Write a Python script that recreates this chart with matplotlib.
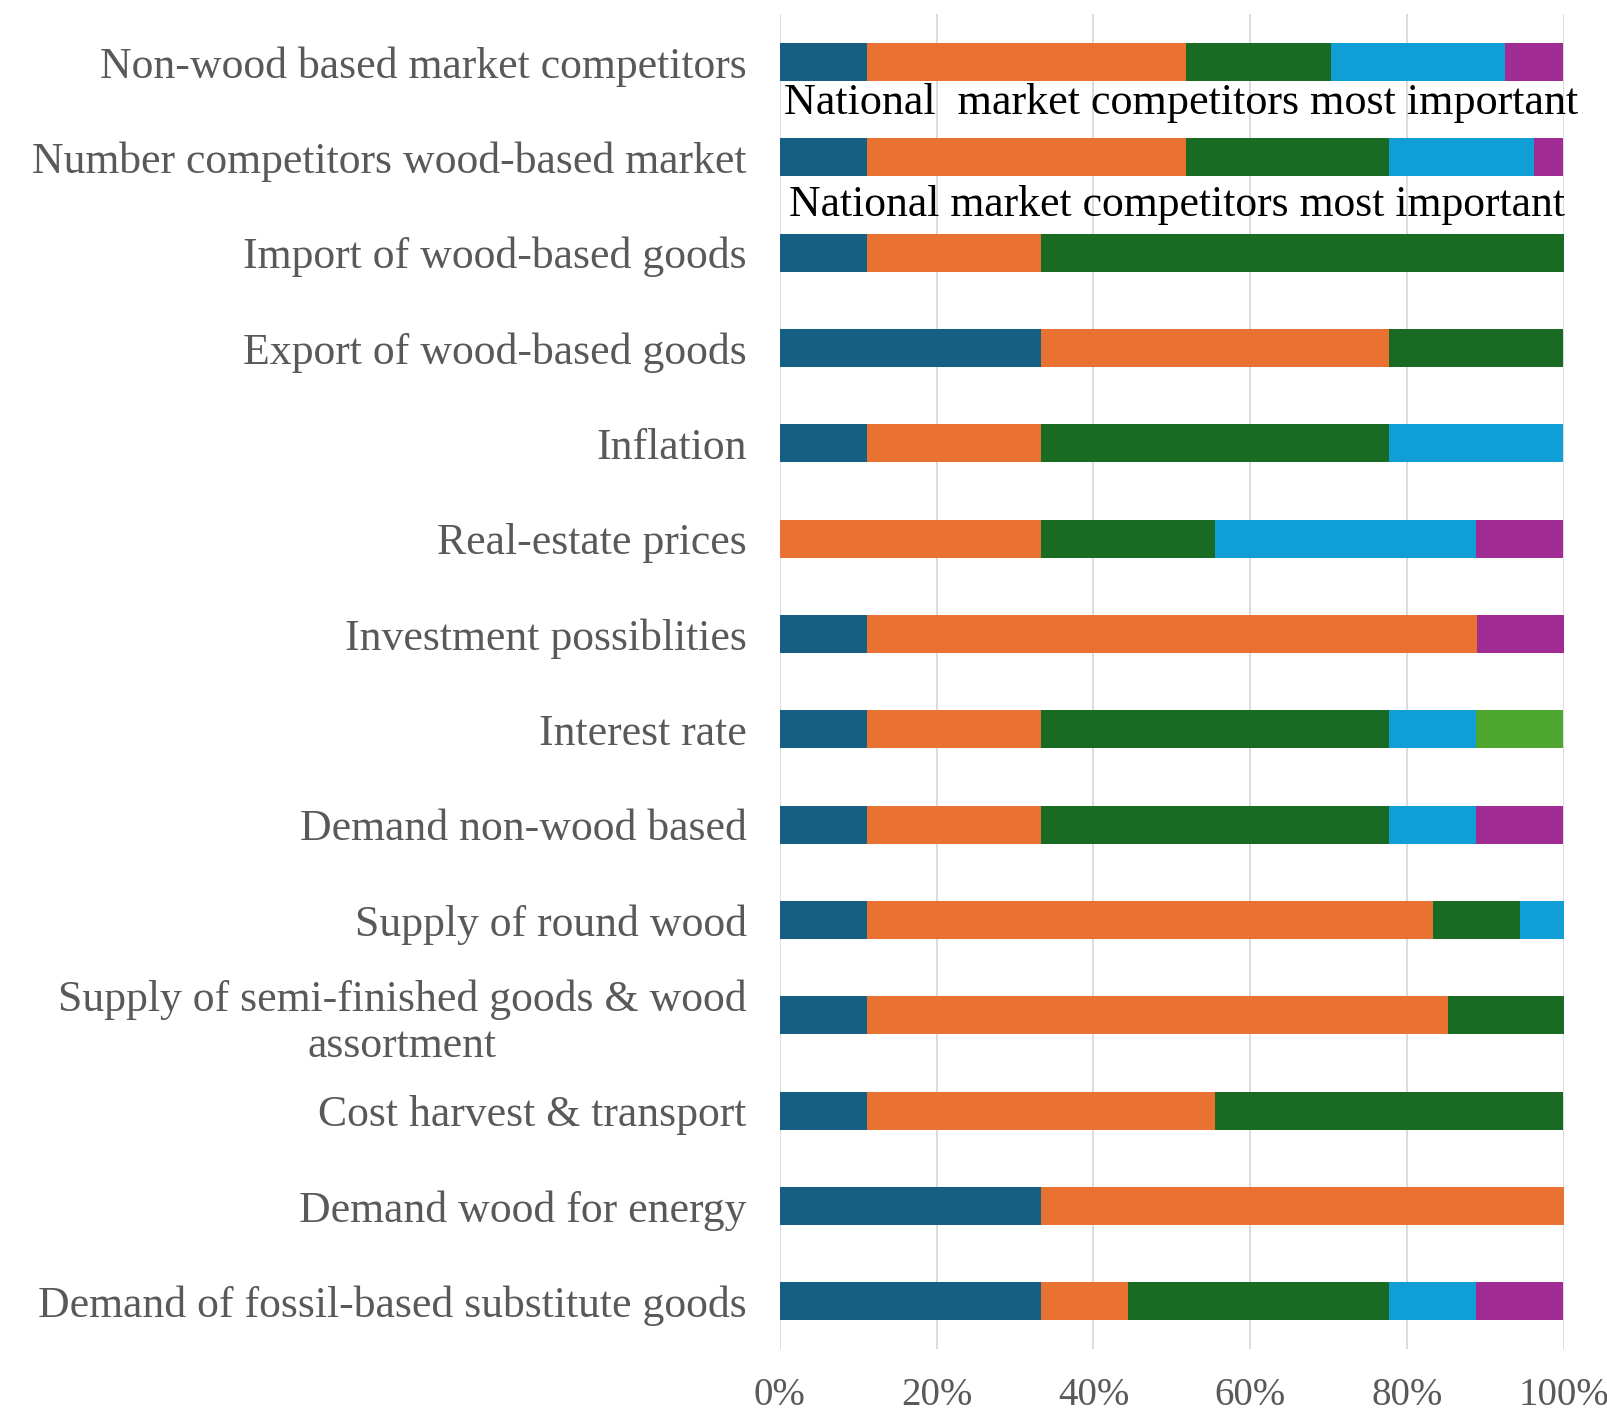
import numpy as np
import matplotlib
matplotlib.use('Agg')
import matplotlib.pyplot as plt

# categories, top to bottom
categories = [
    'Non-wood based market competitors',
    'Number competitors wood-based market',
    'Import of wood-based goods',
    'Export of wood-based goods',
    'Inflation',
    'Real-estate prices',
    'Investment possiblities',
    'Interest rate',
    'Demand non-wood based',
    'Supply of round wood',
    'Supply of semi-finished goods & wood\nassortment',
    'Cost harvest & transport',
    'Demand wood for energy',
    'Demand of fossil-based substitute goods',
]

# shares (%) per answer group, one list per series
s1 = [11.1, 11.1, 11.1, 33.3, 11.1, 0.0, 11.1, 11.1, 11.1, 11.1, 11.1, 11.1, 33.3, 33.3]
s2 = [40.7, 40.7, 22.2, 44.4, 22.2, 33.3, 77.8, 22.2, 22.2, 72.2, 74.1, 44.4, 66.7, 11.1]
s3 = [18.5, 25.9, 66.7, 22.2, 44.4, 22.2, 0.0, 44.4, 44.4, 11.1, 14.8, 44.4, 0.0, 33.3]
s4 = [22.2, 18.5, 0.0, 0.0, 22.2, 33.3, 0.0, 11.1, 11.1, 5.6, 0.0, 0.0, 0.0, 11.1]
s5 = [7.4, 3.7, 0.0, 0.0, 0.0, 11.1, 11.1, 0.0, 11.1, 0.0, 0.0, 0.0, 0.0, 11.1]
s6 = [0.0, 0.0, 0.0, 0.0, 0.0, 0.0, 0.0, 11.1, 0.0, 0.0, 0.0, 0.0, 0.0, 0.0]

notes = ['National  market competitors most important',
         'National market competitors most important']

series = [s1, s2, s3, s4, s5, s6]
colors = ['#156082', '#E97132', '#196B24', '#0F9ED5', '#A02B93', '#4EA72E']

plt.rcParams['font.family'] = ['Liberation Serif', 'DejaVu Serif']

fig = plt.figure(figsize=(16.08, 14.22), dpi=100)
ax = fig.add_axes([0.485, 0.0513, 0.4875, 0.9386])

y = np.arange(len(categories))
left = np.zeros(len(categories))
for vals, c in zip(series, colors):
    vals = np.array(vals)
    ax.barh(y, vals, left=left, height=0.4, color=c, linewidth=0, zorder=3)
    left = left + vals

ax.set_xlim(0, 100)
ax.set_ylim(len(categories) - 0.5, -0.5)
ax.set_xticks(np.arange(0, 101, 20))
ax.set_xticklabels([f'{v}%' for v in range(0, 101, 20)])
ax.set_yticks(y)
ax.set_yticklabels(categories)
for lab in ax.get_yticklabels():
    lab.set_multialignment('center')

ax.tick_params(axis='both', length=0, colors='#595959', labelsize=31.5)
ax.tick_params(axis='x', pad=20, labelsize=28)
ax.tick_params(axis='y', pad=24)
ax.grid(axis='x', color='#D9D9D9', linewidth=1.3, zorder=0)
for sp in ax.spines.values():
    sp.set_visible(False)

# free-text notes placed on the chart
ax.text(0.5, 0.43, notes[0], fontsize=31.8, color='black', va='center', ha='left', zorder=4, clip_on=False)
ax.text(1.2, 1.50, notes[1], fontsize=31.5, color='black', va='center', ha='left', zorder=4, clip_on=False)

fig.savefig('out.png', dpi=100)
